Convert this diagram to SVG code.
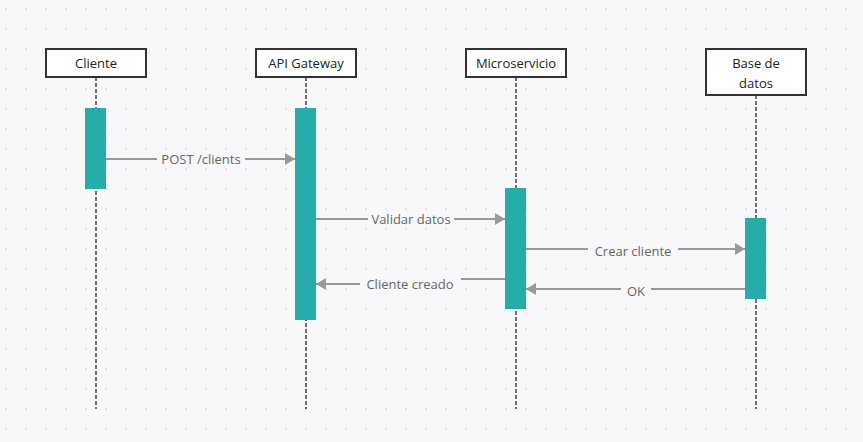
<svg xmlns="http://www.w3.org/2000/svg" width="863" height="442" viewBox="0 0 863 442">
<defs>
<pattern id="dots" x="0" y="0" width="20" height="20" patternUnits="userSpaceOnUse">
<circle cx="6" cy="9" r="1" fill="#dcdce0"/>
</pattern>
<marker id="ah" markerWidth="10" markerHeight="12" refX="10" refY="6" orient="auto" markerUnits="userSpaceOnUse">
<path d="M0,0 L10,6 L0,12 Z" fill="#999"/>
</marker>
<style>
.box{fill:#fff;stroke:#333;stroke-width:2}
.life{stroke:#444;stroke-width:1.5;stroke-dasharray:4,2;fill:none}
.act{fill:#26ada9}
.name{font-family:"Open Sans","Liberation Sans",sans-serif;font-size:13px;fill:#222;text-anchor:middle}
.msg{stroke:#999;stroke-width:2;fill:none}
.lbl{font-family:"Open Sans","Liberation Sans",sans-serif;font-size:13px;fill:#666;text-anchor:middle}
.lblbg{fill:#f8f8fa}
</style>
</defs>
<rect width="863" height="442" fill="#f8f8fa"/>
<rect width="863" height="442" fill="url(#dots)"/>

<g id="cliente">
<line class="life" x1="96" y1="77" x2="96" y2="409"/>
<rect class="box" x="46" y="49" width="100" height="28"/>
<text class="name" x="96" y="68">Cliente</text>
<rect class="act" x="85" y="108" width="21" height="81"/>
</g>
<g id="api-gateway">
<line class="life" x1="306" y1="77" x2="306" y2="409"/>
<rect class="box" x="256" y="49" width="100" height="28"/>
<text class="name" x="306" y="68">API Gateway</text>
<rect class="act" x="295" y="108" width="21" height="212"/>
</g>
<g id="microservicio">
<line class="life" x1="516" y1="77" x2="516" y2="409"/>
<rect class="box" x="466" y="49" width="100" height="28"/>
<text class="name" x="516" y="68">Microservicio</text>
<rect class="act" x="505" y="188" width="21" height="121"/>
</g>
<g id="base-de-datos">
<line class="life" x1="756" y1="95" x2="756" y2="409"/>
<rect class="box" x="706" y="49" width="100" height="46"/>
<text class="name" x="756" y="68">Base de</text>
<text class="name" x="756" y="88">datos</text>
<rect class="act" x="745" y="218" width="21" height="81"/>
</g>

<g id="connectors">
<line class="msg" x1="106" y1="159" x2="295" y2="159" marker-end="url(#ah)"/>
<rect class="lblbg" x="157" y="150" width="88" height="18"/>
<text class="lbl" x="201" y="164">POST /clients</text>

<line class="msg" x1="316" y1="219" x2="505" y2="219" marker-end="url(#ah)"/>
<rect class="lblbg" x="368" y="210" width="86" height="18"/>
<text class="lbl" x="411" y="224">Validar datos</text>

<path class="msg" d="M505,279 H411 V284 H316" marker-end="url(#ah)"/>
<rect class="lblbg" x="360" y="274" width="101" height="19"/>
<text class="lbl" x="410" y="289">Cliente creado</text>

<line class="msg" x1="526" y1="249" x2="745" y2="249" marker-end="url(#ah)"/>
<rect class="lblbg" x="588" y="240" width="90" height="18"/>
<text class="lbl" x="633" y="256">Crear cliente</text>

<line class="msg" x1="745" y1="289" x2="526" y2="289" marker-end="url(#ah)"/>
<rect class="lblbg" x="621" y="280" width="30" height="18"/>
<text class="lbl" x="636" y="296">OK</text>
</g>
</svg>
